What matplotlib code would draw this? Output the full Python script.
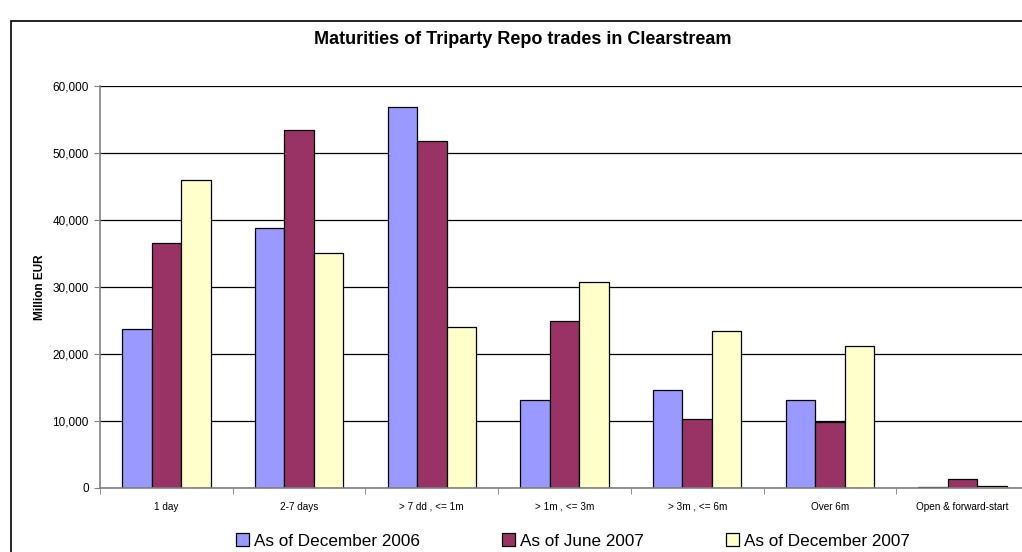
import numpy as np
import matplotlib
matplotlib.use("Agg")
import matplotlib.pyplot as plt
from matplotlib.patches import Rectangle
from matplotlib.ticker import FuncFormatter, FixedLocator

plt.rcParams['font.family'] = ['Liberation Sans', 'DejaVu Sans']

categories = ["1 day", "2-7 days", "> 7 dd , <= 1m", "> 1m , <= 3m",
              "> 3m , <= 6m", "Over 6m", "Open & forward-start"]
dec_2006 = [23800, 38800, 56800, 13100, 14600, 13100, 200]
jun_2007 = [36600, 53500, 51800, 24900, 10300, 9900, 1400]
dec_2007 = [45900, 35100, 24100, 30800, 23500, 21200, 250]
series_names = ["As of December 2006", "As of June 2007", "As of December 2007"]
colors = ["#9999FF", "#993366", "#FFFFCC"]

fig = plt.figure(figsize=(10.22, 5.52), dpi=100)
ax = fig.add_axes([100/1022, 64/552, 929/1022, 402/552])

# outer chart border (cut off at right and bottom like the source image)
fig.patches.append(Rectangle((11/1022, -0.1), 1.2, 1 - 21/552 + 0.1,
                             transform=fig.transFigure, fill=False,
                             edgecolor="black", linewidth=1.2, clip_on=False))

x = np.arange(len(categories))
w = 0.222
for i, (vals, name, c) in enumerate(zip([dec_2006, jun_2007, dec_2007], series_names, colors)):
    ax.bar(x + (i - 1) * w, vals, width=w, color=c, edgecolor="black",
           linewidth=0.9, label=name, zorder=3)

ax.set_xlim(-0.5, len(categories) - 0.5)
ax.set_ylim(0, 60000)
ax.set_yticks(np.arange(0, 60001, 10000))
ax.yaxis.set_major_formatter(FuncFormatter(lambda v, p: f"{int(v):,}"))
ax.yaxis.grid(True, color="black", linewidth=0.9)
ax.set_axisbelow(True)

ax.set_xticks(x)
ax.set_xticklabels(categories)
ax.xaxis.set_minor_locator(FixedLocator(np.arange(-0.5, len(categories), 1)))
ax.tick_params(axis="x", which="major", length=0, pad=10, labelsize=7.2)
ax.tick_params(axis="x", which="minor", length=4, color="#808080", direction="out")
ax.tick_params(axis="y", length=4, color="#808080", labelsize=8.5, pad=4)

for s in ["top", "right"]:
    ax.spines[s].set_visible(False)
for s in ["left", "bottom"]:
    ax.spines[s].set_color("#808080")
    ax.spines[s].set_linewidth(1.2)
    ax.spines[s].set_zorder(4)

ax.set_ylabel("Million EUR", fontsize=8.5, fontweight="bold")
ax.yaxis.set_label_coords(-54/929, 0.5)

fig.text(523/1022, 1 - 40/552, "Maturities of Triparty Repo trades in Clearstream",
         ha="center", va="center", fontsize=13, fontweight="bold")

fig.legend(loc="center", bbox_to_anchor=(573/1022, 1 - 541/552), ncol=3,
           frameon=False, fontsize=12.3, handlelength=0.75, handleheight=0.75,
           handletextpad=0.3, columnspacing=4.8)

fig.savefig("out.png", dpi=100)
